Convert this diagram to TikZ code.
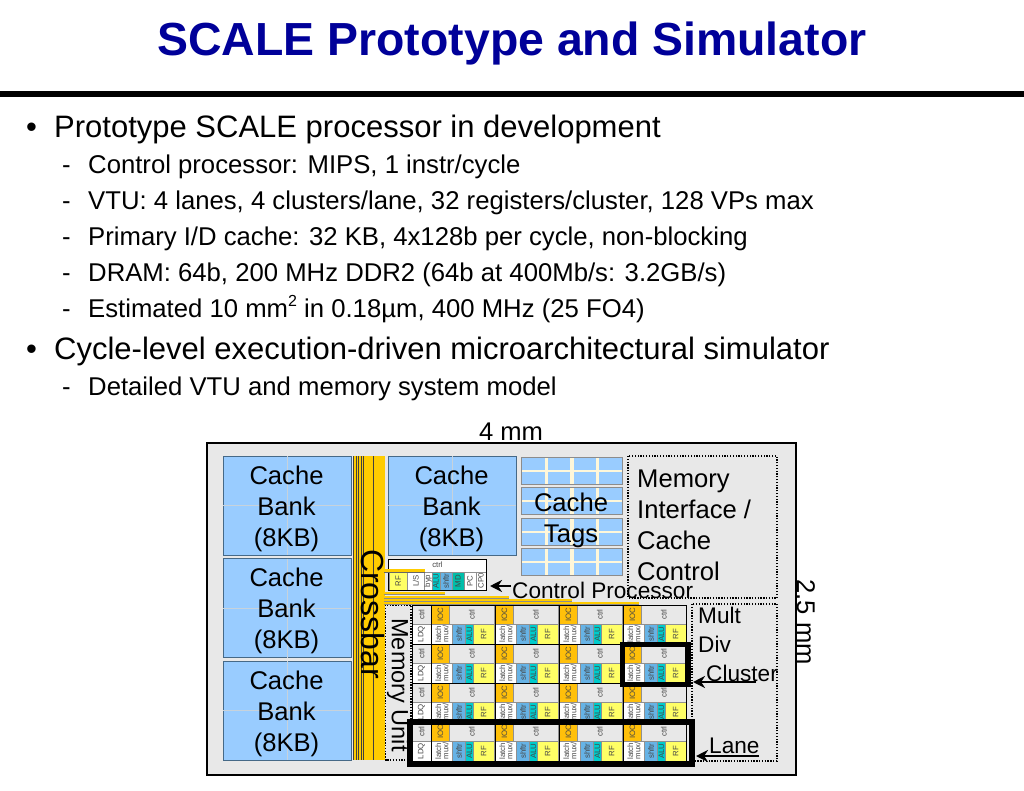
\documentclass[tikz,border=0pt]{standalone}
\usepackage{fontspec}
\setmainfont{Liberation Sans}
\usetikzlibrary{arrows.meta}
\definecolor{titleblue}{RGB}{0,0,153}
\definecolor{chipgray}{RGB}{232,232,232}
\definecolor{bankblue}{RGB}{153,204,255}
\definecolor{bankedge}{RGB}{70,105,135}
\definecolor{crossyellow}{RGB}{255,204,0}
\definecolor{ioc}{RGB}{255,192,10}
\definecolor{rfy}{RGB}{255,255,102}
\definecolor{shf}{RGB}{102,179,230}
\definecolor{alu}{RGB}{0,204,204}
\definecolor{mdc}{RGB}{0,190,170}
\definecolor{celltxt}{RGB}{70,70,70}
\tikzset{
  x=1pt,y=-1pt,
  mainb/.style={anchor=base west,inner sep=0pt,font=\fontsize{31}{36}\selectfont},
  subb/.style={anchor=base west,inner sep=0pt,font=\fontsize{25.7}{30}\selectfont},
  lbl/.style={inner sep=0pt,font=\fontsize{25.6}{31}\selectfont,align=center},
  lblsm/.style={inner sep=0pt,font=\fontsize{22.6}{29}\selectfont,align=left},
  bank/.style={draw=bankedge,line width=0.8pt,fill=bankblue},
  dotbox/.style={draw=black,line width=1.3pt,dash pattern=on 1.3pt off 1.5pt},
  cell/.style={draw=celltxt!60,line width=0.4pt},
  tiny/.style={inner sep=0pt,text=celltxt,rotate=90,align=center,font=\fontsize{7.8}{7.4}\selectfont},
  thick box/.style={draw=black,line width=6pt},
  pointer/.style={-{Stealth[length=12pt,width=12pt]},line width=2.4pt},
}
\newcommand{\cellbox}[6]{% x1 y1 x2 y2 fill text
  \path[cell,fill=#5] (#1,#2) rectangle (#3,#4);
  \node[tiny] at ({(#1+#3)/2},{(#2+#4)/2}) {#6};
}
\begin{document}
\begin{tikzpicture}
\useasboundingbox (0,0) rectangle (1024,791);
\fill[white] (0,0) rectangle (1024,791);
\node[inner sep=0pt,text=titleblue,font=\bfseries\fontsize{46.4}{54}\selectfont] (title) at (512,44) {SCALE Prototype and Simulator};
\fill[black] (0,91.5) rectangle (1024,97);
% bullets
\node[mainb] (b0) at (26,138) {•};
\node[mainb] (b1) at (54,138) {Prototype SCALE processor in development};
\node[subb] (d1) at (62,174) {-}; \node[subb] (s1) at (88,174) {Control processor: MIPS, 1 instr/cycle};
\node[subb] (d2) at (62,210) {-}; \node[subb] (s2) at (88,210) {VTU: 4 lanes, 4 clusters/lane, 32 registers/cluster, 128 VPs max};
\node[subb] (d3) at (62,246) {-}; \node[subb] (s3) at (88,246) {Primary I/D cache: 32 KB, 4x128b per cycle, non-blocking};
\node[subb] (d4) at (62,281) {-}; \node[subb] (s4) at (88,281) {DRAM: 64b, 200 MHz DDR2 (64b at 400Mb/s: 3.2GB/s)};
\node[subb] (d5) at (62,317) {-}; \node[subb] (s5) at (88,317) {Estimated 10 mm\raisebox{0.42em}{\fontsize{16}{16}\selectfont 2} in 0.18µm, 400 MHz (25 FO4)};
\node[mainb] (b2) at (26,359) {•};
\node[mainb] (b3) at (54,359) {Cycle-level execution-driven microarchitectural simulator};
\node[subb] (d6) at (62,395) {-}; \node[subb] (s6) at (88,395) {Detailed VTU and memory system model};
% chip
\path[draw=black,line width=2pt,fill=chipgray] (207,443) rectangle (796,775);
% cache banks
\foreach \bx/\by/\bn in {223/456/a,223/558.5/b,223/661/c,388/456/d}{
  \path[bank] (\bx,\by) rectangle ++(128,99);
  \draw[bankedge!30,line width=0.5pt] (\bx+64,\by) -- ++(0,99) (\bx,\by+49.5) -- ++(128,0);
  \node[lbl] (bank\bn) at (\bx+63.5,\by+52.5) {Cache\\Bank\\(8KB)};
}
% crossbar
\fill[crossyellow] (353,456) rectangle (384.5,760);
\foreach \lx in {353.5,356,358.5,361,363,373.5}{\draw[black!75,line width=0.5pt] (\lx,456) -- (\lx,760);}
% memory unit
\path[dotbox,fill=chipgray] (385.5,605) rectangle (411,760);
% control processor
\path[draw=black,line width=0.9pt,fill=white] (388.5,559.5) rectangle (486,590.5);
\node[inner sep=0pt,text=celltxt,font=\fontsize{7.8}{7.8}\selectfont] (cpctrl) at (437.5,565) {ctrl};
\cellbox{389}{572}{407.5}{590}{rfy}{RF}
\cellbox{407.5}{572}{424}{590}{white}{L/S}
\cellbox{424}{572}{432}{590}{white}{byp}
\cellbox{432}{572}{440}{590}{alu}{ALU}
\cellbox{440}{572}{452}{590}{shf}{shftr}
\cellbox{452}{572}{464}{590}{mdc}{MD}
\cellbox{464}{572}{476}{590}{white}{PC}
\cellbox{476}{572}{486}{590}{white}{CP0}
\path[draw=black,line width=0.9pt] (388.5,559.5) rectangle (486,590.5);
\fill[crossyellow] (384,569) rectangle (425,572);
\draw[black!60,line width=0.3pt] (384,572) -- (425,572);
% bus lines
\foreach \ly/\lx in {593/445,597/509,600/572,603/639}{
  \fill[crossyellow] (384,\ly-1.3) rectangle (\lx,\ly+1.3);
  \draw[black!45,line width=0.3pt] (384,\ly+1.3) -- (\lx,\ly+1.3);
}
% cache tags
\foreach \ty in {457,487,518,548}{
  \path[draw=black!45,line width=0.5pt,fill=white!85!crossyellow] (521,\ty) rectangle (622,\ty+27.5);
  \foreach \tx/\tw in {522/22.5,548/22,573.5/22,598.5/23}{
    \fill[bankblue] (\tx,\ty+1) rectangle ++(\tw,11.5);
    \fill[bankblue] (\tx,\ty+15) rectangle ++(\tw,11.5);
  }
}
% memory interface and mult/div
\path[dotbox] (628,456) rectangle (777,598);
\path[dotbox] (692,604) rectangle (777,761);
% lane array
\foreach \r in {0,1,2,3}{
  \pgfmathsetmacro{\ya}{605+39*\r}
  \pgfmathsetmacro{\yb}{\ya+19}
  \pgfmathsetmacro{\yc}{\ya+39}
  \cellbox{412}{\ya}{431}{\yb}{chipgray}{ctrl}
  \cellbox{412}{\yb}{431}{\yc}{white}{LDQ}
  \foreach \c in {0,1,2,3}{
    \pgfmathsetmacro{\xa}{431.5+64*\c}
    \pgfmathsetmacro{\xb}{\xa+18}
    \pgfmathsetmacro{\xc}{\xa+62.5}
    \pgfmathsetmacro{\xd}{\xa+21}
    \pgfmathsetmacro{\xe}{\xa+34}
    \pgfmathsetmacro{\xf}{\xa+42}
    \cellbox{\xa}{\ya}{\xb}{\yb}{ioc}{IOC}
    \cellbox{\xb}{\ya}{\xc}{\yb}{chipgray}{ctrl}
    \cellbox{\xa}{\yb}{\xd}{\yc}{white}{latch\\mux/}
    \cellbox{\xd}{\yb}{\xe}{\yc}{shf}{shftr}
    \cellbox{\xe}{\yb}{\xf}{\yc}{alu}{ALU}
    \cellbox{\xf}{\yb}{\xc}{\yc}{rfy}{RF}
  }
  \draw[black,line width=1pt] (412,\ya) -- (686,\ya);
}
\path[draw=black,line width=1pt] (412,605) rectangle (686,761);
\foreach \c in {0,1,2,3}{\draw[black,line width=0.8pt] ({431.5+64*\c},605) -- ({431.5+64*\c},761);}
% thick outlines
\path[draw=black,line width=5.5pt] (622.5,644.5) rectangle (688,684.5);
\path[thick box] (410,722) rectangle (692,764);
% labels
\node[lbl,font=\fontsize{32}{36}\selectfont,rotate=-90] (crossbar) at (372.5,614) {Crossbar};
\node[lbl,rotate=-90,font=\fontsize{23.5}{28}\selectfont] (memunit) at (398,685) {Memory Unit};
\node[lbl] (tags) at (571,520) {Cache\\Tags};
\node[lbl,align=left,anchor=west] (memif) at (637,525) {Memory\\Interface /\\Cache\\Control};
\node[lblsm,anchor=west] (cp) at (512,590) {Control Processor};
\node[lblsm,anchor=north west] (md) at (698,607) {Mult\\Div};
\node[lblsm,anchor=west] (cluster) at (706,673) {Cluster};
\node[lblsm,anchor=west] (lane) at (709,746) {Lane};
\node[lbl] (w) at (511,432) {4 mm};
\node[lbl,rotate=-90] (h) at (806,622) {2.5 mm};
% pointers
\coordinate (cpT) at (490,586);
\coordinate (clT) at (693,682);
\coordinate (clS) at (756,682);
\coordinate (laT) at (696,756);
\coordinate (laS) at (759,756);
\coordinate (cpS) at (511,586);
\draw[pointer] (cpS) -- (cpT);
\draw[pointer] (clS) -- (clT);
\draw[pointer] (laS) -- (laT);
\end{tikzpicture}
\end{document}
